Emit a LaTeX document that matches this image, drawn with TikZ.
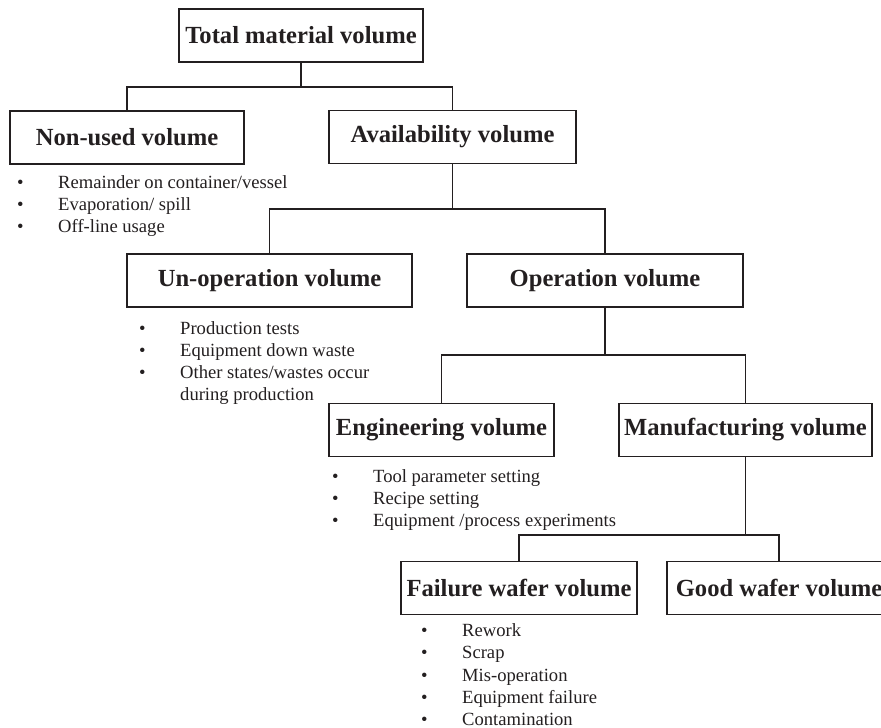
\documentclass[tikz,border=0pt]{standalone}
\usepackage{fontspec}
\setmainfont{Liberation Serif}
\definecolor{ink}{HTML}{231F20}
\newcommand{\blt}{\makebox[41pt][l]{\textbullet}}
\tikzset{
  vbox/.style={draw=ink, line width=1.3pt, minimum height=53pt, inner sep=0pt,
    font=\fontsize{24.6}{28}\selectfont\bfseries, text=ink},
  vlist/.style={anchor=base west, inner sep=0pt, align=left,
    font=\fontsize{18.6}{22.2}\selectfont, text=ink},
  link/.style={draw=ink, line width=1.3pt}
}

\begin{document}
\begin{tikzpicture}[x=1pt,y=-1pt]
    \clip (0,0) rectangle (881,728);

    \node[vbox, minimum width=244pt] (total) at (301,35.5) {Total material volume};
    \node[vbox, minimum width=234pt] (nonused) at (127,137.5) {Non-used volume};
    \node[vbox, minimum width=247pt] (avail) at (452.5,137) {Availability volume};
    \node[vbox, minimum width=285pt] (unop) at (269.5,280.5) {Un-operation volume};
    \node[vbox, minimum width=276pt] (op) at (605,280.5) {Operation volume};
    \node[vbox, minimum width=225pt] (eng) at (441.5,430) {Engineering volume};
    \node[vbox, minimum width=253pt] (manu) at (745.5,430) {Manufacturing volume};
    \node[vbox, minimum width=236pt] (fail) at (519,588) {Failure wafer volume};
    \node[vbox, minimum width=224pt] (good) at (779,588) {Good wafer volume};

    \node[vlist] (nonusedlist) at (17,232.4) {\blt Remainder on container/vessel\\
      \blt Evaporation/ spill\\ \blt Off-line usage};
    \node[vlist] (unoplist) at (139,400.6) {\blt Production tests\\
      \blt Equipment down waste\\ \blt Other states/wastes occur\\
      \hspace*{41pt}during production};
    \node[vlist] (englist) at (332,526.4) {\blt Tool parameter setting\\
      \blt Recipe setting\\ \blt Equipment /process experiments};
    \node[vlist] (faillist) at (421,725.5) {\blt Rework\\ \blt Scrap\\
      \blt Mis-operation\\ \blt Equipment failure\\ \blt Contamination};

    \coordinate (j1) at (301,87);
    \coordinate (j2) at (452.5,209);
    \coordinate (j3) at (605,355);
    \coordinate (j4) at (745.5,535);

    \draw[link] (total) -- (j1);
    \draw[link] (nonused) |- (j1) -| (avail);
    \draw[link] (avail) -- (j2);
    \draw[link] (unop) |- (j2) -| (op);
    \draw[link] (op) -- (j3);
    \draw[link] (eng) |- (j3) -| (manu);
    \draw[link] (manu) -- (j4);
    \draw[link] (fail) |- (j4) -| (good);
  \end{tikzpicture}
\end{document}
